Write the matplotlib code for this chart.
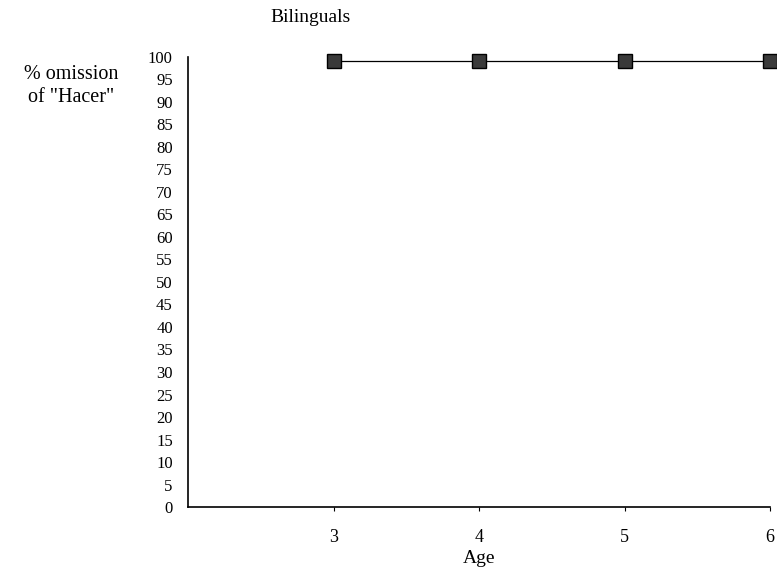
import matplotlib
matplotlib.use("Agg")
import matplotlib.pyplot as plt

ages = [3, 4, 5, 6]
omission = [99, 99, 99, 99]
y_ticks = list(range(0, 101, 5))

plt.rcParams['font.family'] = ['Liberation Serif', 'DejaVu Serif']

fig = plt.figure(figsize=(7.77, 5.73), dpi=100)
ax = fig.add_axes([0.242, 0.115, 0.749, 0.786])

ax.plot(ages, omission, color='black', linewidth=0.9,
        marker='s', markersize=10, markerfacecolor='#3a3a3a',
        markeredgecolor='black', clip_on=False)

ax.set_xlim(2, 6)
ax.set_ylim(0, 100)
ax.set_xticks(ages)
ax.set_yticks(y_ticks)
ax.tick_params(axis='y', length=0, pad=11, labelsize=12)
ax.tick_params(axis='x', direction='out', length=3, pad=13, labelsize=13)

for s in ['top', 'right']:
    ax.spines[s].set_visible(False)
ax.spines['left'].set_linewidth(1.2)
ax.spines['bottom'].set_linewidth(1.2)

ax.set_xlabel('Age', fontsize=14, labelpad=3)
fig.text(0.091, 0.85, '% omission\nof "Hacer"', fontsize=14.5,
         ha='center', va='center', linespacing=1.25)
fig.text(0.40, 0.97, 'Bilinguals', fontsize=14, ha='center', va='center')

fig.savefig('out.png', dpi=100)
